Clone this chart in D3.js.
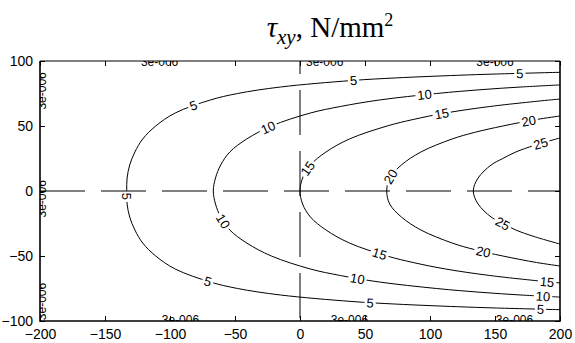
<!DOCTYPE html>
<html>
<head>
<meta charset="utf-8">
<script src="https://cdn.jsdelivr.net/npm/d3@7"></script>
<style>
  body { margin: 0; background: #fff; }
  svg { display: block; }
</style>
</head>
<body>
<svg id="chart" width="575" height="343"></svg>
<script>
// Axis ticks
const xTicks = [-200, -150, -100, -50, 0, 50, 100, 150, 200];
const yTicks = [-100, -50, 0, 50, 100];

// Contour levels of tau_xy (N/mm^2)
const levels = [5, 10, 15, 20, 25];

// Contour line points [x, y], bottom edge to top edge
const contour5 = [[200,-91.3],[151,-90],[121,-89],[74,-87],[40,-85],[-15,-80],[-48,-75],[-69,-70],[-96,-60],[-111,-50],[-121,-40],[-127,-30],[-131,-20],[-133,-10],[-133.3,0],[-133,10],[-131,20],[-127,30],[-121,40],[-111,50],[-96,60],[-69,70],[-48,75],[-15,80],[40,85],[74,87],[121,89],[151,90],[200,91.3]];
const contour10 = [[200,-81.6],[170,-80],[140,-78],[105,-75],[61,-70],[31,-65],[8,-60],[-22,-50],[-41,-40],[-54,-30],[-61,-20],[-65,-10],[-66.7,0],[-65,10],[-61,20],[-54,30],[-41,40],[-22,50],[8,60],[31,65],[61,70],[105,75],[140,78],[170,80],[200,81.6]];
const contour15 = [[200,-70.7],[192,-70],[146,-65],[112,-60],[87,-55],[67,-50],[38,-40],[20,-30],[8,-20],[2,-10],[0,0],[2,10],[8,20],[20,30],[38,40],[67,50],[87,55],[112,60],[146,65],[192,70],[200,70.7]];
const contour20 = [[200,-57.7],[182,-55],[156,-50],[134,-45],[117,-40],[93,-30],[78,-20],[69,-10],[66.7,0],[69,10],[78,20],[93,30],[117,40],[134,45],[156,50],[182,55],[200,57.7]];
const contour25 = [[200,-40.8],[180,-35],[166,-30],[156,-25],[147,-20],[137,-10],[133.3,0],[137,10],[147,20],[156,25],[166,30],[180,35],[200,40.8]];
const contourLines = [contour5, contour10, contour15, contour20, contour25];

// Inline level labels: [level, x, y] spots along each contour
const levelLabels = [
  [5, -82, 66], [5, 41, 89.6], [5, 169, 91], [5, -134, -4], [5, -71, -70], [5, 54, -87], [5, 185, -91],
  [10, -25, 50], [10, 96, 74], [10, -60, -24], [10, 44, -68], [10, 187, -81],
  [15, 5, 18], [15, 109, 60], [15, 61, -49], [15, 190, -71],
  [20, 70, 11], [20, 176, 54], [20, 141, -47],
  [25, 185, 36], [25, 155, -27]
];

// Labels of the near-zero contour running along the plot edges
const edgeLabelText = "3e-006";
const edgeLabelsTop = [-108, 19, 150];
const edgeLabelsBottom = [-92, 38, 165];
const edgeLabelsLeft = [77, -6, -85];

const svg = d3.select("#chart");
const pL = 40, pR = 560, pT = 61, pB = 321;

const x = d3.scaleLinear().domain([-200, 200]).range([pL, pR]);
const y = d3.scaleLinear().domain([-100, 100]).range([pB, pT]);

const defs = svg.append("defs");
defs.append("clipPath").attr("id", "plotClip")
  .append("rect").attr("x", pL).attr("y", pT)
  .attr("width", pR - pL).attr("height", pB - pT);

// Title
const title = svg.append("text")
  .attr("x", 330).attr("y", 37)
  .attr("text-anchor", "middle")
  .attr("font-family", "'Liberation Serif', 'Times New Roman', serif")
  .attr("font-size", 29)
  .attr("fill", "#000");
title.append("tspan").attr("font-style", "italic").text("τ");
title.append("tspan").attr("font-style", "italic").attr("font-size", 21).attr("dy", 7).text("xy");
title.append("tspan").attr("dy", -7).text(", N/mm");
title.append("tspan").attr("font-size", 18).attr("dy", -11).text("2");

const fontSans = "'Liberation Sans', Arial, sans-serif";

// Dashed reference lines through the origin
const refG = svg.append("g").attr("clip-path", "url(#plotClip)");
refG.append("line")
  .attr("x1", pL).attr("x2", pR).attr("y1", y(0)).attr("y2", y(0))
  .attr("stroke", "#000").attr("stroke-width", 1)
  .attr("stroke-dasharray", "45,16").attr("stroke-dashoffset", 0);
refG.append("line")
  .attr("x1", x(0)).attr("x2", x(0)).attr("y1", pT).attr("y2", pB)
  .attr("stroke", "#000").attr("stroke-width", 1)
  .attr("stroke-dasharray", "45,16").attr("stroke-dashoffset", 32);

// Contour lines
const line = d3.line()
  .x(d => x(d[0])).y(d => y(d[1]))
  .curve(d3.curveCatmullRom.alpha(0.5));

const mask = defs.append("mask").attr("id", "labelGaps")
  .attr("maskUnits", "userSpaceOnUse")
  .attr("x", 0).attr("y", 0).attr("width", 575).attr("height", 343);
mask.append("rect").attr("x", 0).attr("y", 0).attr("width", 575).attr("height", 343).attr("fill", "#fff");

const contourG = svg.append("g").attr("clip-path", "url(#plotClip)");
const lineG = contourG.append("g").attr("mask", "url(#labelGaps)");
const paths = contourLines.map(pts =>
  lineG.append("path")
    .attr("d", line(pts))
    .attr("fill", "none")
    .attr("stroke", "#000")
    .attr("stroke-width", 1)
    .node()
);

// Place each level label on its contour, rotated with the line
const labelG = contourG.append("g");
levelLabels.forEach(([lev, lx, ly]) => {
  const p = paths[levels.indexOf(lev)];
  const total = p.getTotalLength();
  const tx = x(lx), ty = y(ly);
  let best = 0, bestD = Infinity;
  for (let s = 0; s <= total; s += 0.5) {
    const q = p.getPointAtLength(s);
    const d = (q.x - tx) ** 2 + (q.y - ty) ** 2;
    if (d < bestD) { bestD = d; best = s; }
  }
  const c = p.getPointAtLength(best);
  const a = p.getPointAtLength(Math.max(0, best - 3));
  const b = p.getPointAtLength(Math.min(total, best + 3));
  let ang = Math.atan2(b.y - a.y, b.x - a.x) * 180 / Math.PI;
  if (ang > 90) ang -= 180;
  if (ang <= -90) ang += 180;
  const t = labelG.append("text")
    .attr("transform", `translate(${c.x},${c.y}) rotate(${ang})`)
    .attr("text-anchor", "middle")
    .attr("dy", "0.36em")
    .attr("font-family", fontSans)
    .attr("font-size", 13)
    .attr("fill", "#000")
    .text(lev);
  const w = t.node().getComputedTextLength();
  mask.append("rect")
    .attr("transform", `translate(${c.x},${c.y}) rotate(${ang})`)
    .attr("x", -w / 2 - 2).attr("y", -7)
    .attr("width", w + 4).attr("height", 14)
    .attr("fill", "#000");
});

// Edge labels, cut by the plot border
const edgeG = contourG.append("g")
  .attr("font-family", fontSans).attr("font-size", 12).attr("fill", "#000")
  .attr("text-anchor", "middle");
edgeLabelsTop.forEach(v => edgeG.append("text")
  .attr("x", x(v)).attr("y", pT + 4.5).text(edgeLabelText));
edgeLabelsBottom.forEach(v => edgeG.append("text")
  .attr("x", x(v)).attr("y", pB + 3).text(edgeLabelText));
edgeLabelsLeft.forEach(v => edgeG.append("text")
  .attr("transform", `translate(${pL},${y(v)}) rotate(-90)`)
  .attr("dy", "0.46em").text(edgeLabelText));

// Axes with inward ticks
const styleAxis = g => {
  g.select(".domain").remove();
  g.selectAll(".tick line").attr("stroke", "#000");
  g.selectAll(".tick text").attr("fill", "#000")
    .attr("font-family", fontSans).attr("font-size", 14);
};
svg.append("g").attr("transform", `translate(0,${pB})`)
  .call(d3.axisBottom(x).tickValues(xTicks).tickSize(-5).tickPadding(8))
  .call(styleAxis);
svg.append("g").attr("transform", `translate(0,${pT})`)
  .call(d3.axisTop(x).tickValues(xTicks).tickSize(-5).tickFormat(""))
  .call(styleAxis);
svg.append("g").attr("transform", `translate(${pL},0)`)
  .call(d3.axisLeft(y).tickValues(yTicks).tickSize(-5).tickPadding(7))
  .call(styleAxis);
svg.append("g").attr("transform", `translate(${pR},0)`)
  .call(d3.axisRight(y).tickValues(yTicks).tickSize(-5).tickFormat(""))
  .call(styleAxis);

// Plot frame
const frame = svg.append("g").attr("fill", "none").attr("stroke", "#000");
frame.append("line").attr("x1", pL).attr("x2", pR).attr("y1", pT).attr("y2", pT)
  .attr("stroke-width", 1);
frame.append("path")
  .attr("d", `M${pL},${pT}V${pB}H${pR}V${pT}`)
  .attr("stroke-width", 1.6);
</script>
</body>
</html>
